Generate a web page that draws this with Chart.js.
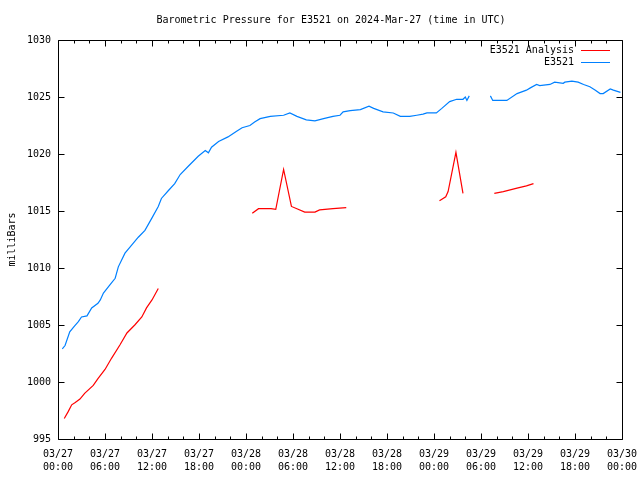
<!DOCTYPE html>
<html>
<head>
<meta charset="utf-8">
<script src="https://cdn.jsdelivr.net/npm/chart.js@4.4.1/dist/chart.umd.min.js"></script>
<style>
html,body{margin:0;padding:0;background:#fff;}
#wrap{width:640px;height:480px;}
</style>
</head>
<body>
<div id="wrap"><canvas id="c" width="640" height="480"></canvas></div>
<script>
// Hours since 2024-03-27 00:00 UTC
const stationHours = [0.55,0.9,1.5,2.1,2.6,3.0,3.7,4.3,5.1,5.4,5.8,6.6,7.3,7.7,8.55,9.4,10.25,11.1,12.0,12.8,13.2,14.1,14.9,15.6,16.6,17.9,18.8,19.2,19.6,20.5,21.7,22.8,23.5,24.5,25.1,25.8,27.1,28.8,29.6,30.5,31.7,32.8,33.9,35.1,36.0,36.4,37.3,38.6,39.7,40.3,41.5,42.8,43.7,44.9,45.8,46.6,47.1,48.3,49.0,50.0,50.9,51.7,52.0,52.2,52.5,53.8,55.2,55.5,57.3,58.6,59.8,60.3,61.1,61.5,62.8,63.4,64.5,64.7,65.6,66.4,67.1,67.9,68.6,69.2,69.6,70.5,70.9,71.8];
const stationValues = [1002.9,1003.2,1004.4,1004.9,1005.3,1005.7,1005.8,1006.5,1006.9,1007.2,1007.8,1008.5,1009.1,1010.1,1011.3,1012.0,1012.7,1013.3,1014.4,1015.4,1016.1,1016.8,1017.4,1018.2,1018.9,1019.8,1020.3,1020.1,1020.6,1021.1,1021.5,1022.0,1022.3,1022.5,1022.8,1023.1,1023.3,1023.4,1023.6,1023.3,1023.0,1022.9,1023.1,1023.3,1023.4,1023.7,1023.8,1023.9,1024.2,1024.0,1023.7,1023.6,1023.3,1023.3,1023.4,1023.5,1023.6,1023.6,1024.0,1024.6,1024.8,1024.8,1025.0,1024.7,1025.1,null,1025.1,1024.7,1024.7,1025.3,1025.6,1025.8,1026.1,1026.0,1026.1,1026.3,1026.2,1026.3,1026.4,1026.3,1026.1,1025.9,1025.6,1025.3,1025.3,1025.7,1025.6,1025.4];

const analysisHours = [0.8,1.3,1.75,2.2,2.8,3.4,4.5,5.1,6.0,6.85,7.9,8.8,9.8,10.7,11.3,12.0,12.8,18.0,24.8,25.6,27.2,27.8,28.8,29.8,30.5,31.5,32.8,33.4,35.1,36.8,42.0,48.7,49.5,49.8,50.8,51.7,53.5,55.7,56.85,58.6,59.8,60.7];
const analysisValues = [996.8,997.4,998.0,998.2,998.5,999.0,999.7,1000.3,1001.1,1002.1,1003.25,1004.3,1005.0,1005.7,1006.5,1007.2,1008.2,null,1014.8,1015.2,1015.2,1015.15,1018.65,1015.4,1015.2,1014.9,1014.9,1015.1,1015.2,1015.3,null,1015.9,1016.25,1016.7,1020.15,1016.55,null,1016.55,1016.7,1017.0,1017.2,1017.4];

const xTickLabels = ['03/27\n00:00','03/27\n06:00','03/27\n12:00','03/27\n18:00','03/28\n00:00','03/28\n06:00','03/28\n12:00','03/28\n18:00','03/29\n00:00','03/29\n06:00','03/29\n12:00','03/29\n18:00','03/30\n00:00'];
const seriesNames = ['E3521 Analysis','E3521'];
const seriesColors = ['#ff0000','#0080ff'];
const chartTitle = 'Barometric Pressure for E3521 on 2024-Mar-27 (time in UTC)';

const FONT = '"DejaVu Sans Mono", "Liberation Mono", monospace';

const toPoints = (hs, vs) => hs.map((h, i) => ({x: h, y: vs[i]}));

const framePlugin = {
  id: 'frameTicks',
  afterDraw(chart) {
    const ctx = chart.ctx;
    const a = chart.chartArea;
    const xs = chart.scales.x, ys = chart.scales.y;
    ctx.save();
    // title
    ctx.font = '10px ' + FONT;
    ctx.fillStyle = '#000';
    ctx.textAlign = 'center';
    ctx.textBaseline = 'middle';
    ctx.fillText(chartTitle, 331, 20);

    ctx.strokeStyle = '#000';
    ctx.lineWidth = 1;
    const L = Math.round(a.left) + 0.5, R = Math.round(a.right) + 0.5;
    const T = Math.round(a.top) + 0.5, B = Math.round(a.bottom) + 0.5;
    ctx.beginPath();
    ctx.rect(L, T, R - L, B - T);
    ctx.stroke();
    ctx.beginPath();
    for (let h = 0; h <= 72; h += 2) {
      const px = Math.round(xs.getPixelForValue(h)) + 0.5;
      const len = (h % 6 === 0) ? 6 : 3;
      ctx.moveTo(px, B); ctx.lineTo(px, B - len);
      ctx.moveTo(px, T); ctx.lineTo(px, T + len);
    }
    for (let v = 995; v <= 1030; v += 5) {
      const py = Math.round(ys.getPixelForValue(v)) + 0.5;
      ctx.moveTo(L, py); ctx.lineTo(L + 6, py);
      ctx.moveTo(R, py); ctx.lineTo(R - 6, py);
    }
    ctx.stroke();
    // legend
    ctx.textAlign = 'right';
    chart.data.datasets.forEach((ds, i) => {
      const y = 50 + i * 12;
      ctx.fillText(ds.label, 574, y + 0.5);
      ctx.strokeStyle = ds.borderColor;
      ctx.beginPath();
      ctx.moveTo(581, y + 0.5); ctx.lineTo(610, y + 0.5);
      ctx.stroke();
    });
    ctx.restore();
  }
};

new Chart(document.getElementById('c'), {
  type: 'line',
  data: {
    datasets: [
      {label: seriesNames[0], data: toPoints(analysisHours, analysisValues), borderColor: seriesColors[0], borderWidth: 1.2, pointRadius: 0, spanGaps: false, tension: 0, fill: false},
      {label: seriesNames[1], data: toPoints(stationHours, stationValues), borderColor: seriesColors[1], borderWidth: 1.2, pointRadius: 0, spanGaps: false, tension: 0, fill: false}
    ]
  },
  options: {
    responsive: false,
    animation: false,
    events: [],
    layout: {padding: {left: 0, right: 18, top: 40, bottom: 0}},
    plugins: {
      legend: {display: false},
      tooltip: {enabled: false},
      title: {display: false}
    },
    scales: {
      x: {
        type: 'linear',
        min: 0, max: 72,
        grid: {display: false, drawTicks: false},
        border: {display: false},
        ticks: {
          stepSize: 6,
          autoSkip: false,
          maxRotation: 0,
          padding: 9,
          color: '#000',
          font: {family: FONT, size: 10, lineHeight: 1.3},
          callback: (v) => xTickLabels[Math.round(v / 6)].split('\n')
        },
        afterFit: (s) => { s.height = 41; s.paddingLeft = 0; s.paddingRight = 0; }
      },
      y: {
        min: 995, max: 1030,
        grid: {display: false, drawTicks: false},
        border: {display: false},
        ticks: {
          stepSize: 5,
          padding: 7,
          color: '#000',
          font: {family: FONT, size: 10},
          callback: (v) => String(v)
        },
        title: {
          display: true,
          text: 'milliBars',
          color: '#000',
          font: {family: FONT, size: 10, lineHeight: 1.2},
          padding: {top: 6, bottom: 0}
        },
        afterFit: (s) => { s.width = 58; s.paddingTop = 0; s.paddingBottom = 0; }
      }
    }
  },
  plugins: [framePlugin]
});
</script>
</body>
</html>
